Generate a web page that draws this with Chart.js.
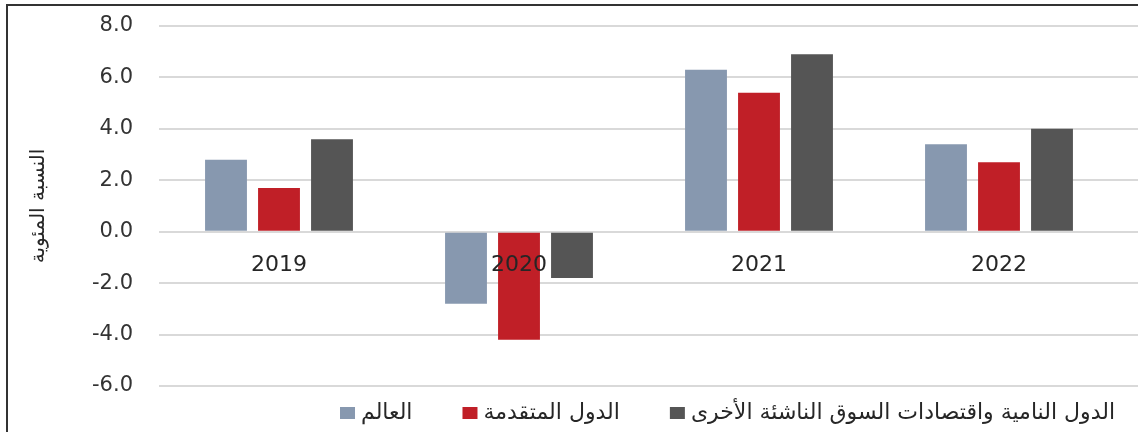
<!DOCTYPE html>
<html><head><meta charset="utf-8">
<script src="https://cdn.jsdelivr.net/npm/chart.js@4.4.1/dist/chart.umd.min.js"></script>
<style>html,body{margin:0;padding:0;background:#fff}canvas{display:block}</style>
</head><body>
<canvas id="c" width="1138" height="432"></canvas>
<script>
const categories = ['2019', '2020', '2021', '2022'];
const seriesNames = ['العالم', 'الدول المتقدمة', 'الدول النامية واقتصادات السوق الناشئة الأخرى'];
const worldValues = [2.8, -2.8, 6.3, 3.4];
const advancedValues = [1.7, -4.2, 5.4, 2.7];
const emergingValues = [3.6, -1.8, 6.9, 4.0];
const yMin = -6, yMax = 8, yStep = 2;
const yTitle = 'النسبة المئوية';

const decor = {
  id: 'decor',
  beforeDraw(chart) {
    const ctx = chart.ctx;
    ctx.save(); ctx.fillStyle = '#fff'; ctx.fillRect(0, 0, chart.width, chart.height); ctx.restore();
  },
  beforeDatasetsDraw(chart) {
    const y = chart.scales.y, a = chart.chartArea, ctx = chart.ctx;
    ctx.save(); ctx.strokeStyle = '#d9d9d9'; ctx.lineWidth = 2;
    y.ticks.forEach(t => {
      const p = Math.round(y.getPixelForValue(t.value));
      ctx.beginPath(); ctx.moveTo(a.right, p); ctx.lineTo(chart.width, p); ctx.stroke();
    });
    ctx.restore();
  },
  afterDraw(chart) {
    const ctx = chart.ctx;
    ctx.save();
    // frame
    ctx.strokeStyle = '#333'; ctx.lineWidth = 2;
    ctx.beginPath(); ctx.moveTo(7, chart.height); ctx.lineTo(7, 5); ctx.lineTo(chart.width, 5); ctx.stroke();
    // legend (from the chart's datasets)
    ctx.font = '22px "DejaVu Sans"';
    ctx.textBaseline = 'middle';
    ctx.textAlign = 'left';
    const boxW = 15, boxH = 12, boxGap = 6, itemGap = 50, rightEdge = 1115, cy = 413;
    const items = chart.data.datasets.map(ds => ({ text: ds.label, color: ds.backgroundColor, w: ctx.measureText(ds.label).width }));
    const total = items.reduce((s, it) => s + boxW + boxGap + it.w, 0) + itemGap * (items.length - 1);
    let x = rightEdge - total;
    items.forEach(it => {
      ctx.fillStyle = it.color;
      ctx.fillRect(x, cy - boxH / 2, boxW, boxH);
      x += boxW + boxGap;
      ctx.fillStyle = '#262626';
      ctx.fillText(it.text, x, cy);
      x += it.w + itemGap;
    });
    ctx.restore();
  }
};

new Chart(document.getElementById('c'), {
  type: 'bar',
  data: {
    labels: categories,
    datasets: [
      { label: seriesNames[0], data: worldValues, backgroundColor: '#8798AF' },
      { label: seriesNames[1], data: advancedValues, backgroundColor: '#C01F27' },
      { label: seriesNames[2], data: emergingValues, backgroundColor: '#555555' }
    ]
  },
  options: {
    responsive: false,
    animation: false,
    datasets: { bar: { barPercentage: 0.79, categoryPercentage: 0.6625 } },
    layout: { padding: { top: 26, right: 19, left: 0, bottom: 46 } },
    plugins: {
      legend: { display: false },
      tooltip: { enabled: false }
    },
    scales: {
      x: {
        position: { y: 0 },
        grid: { display: false },
        border: { display: false },
        ticks: { z: 1, font: { family: 'DejaVu Sans', size: 22 }, color: '#262626', padding: 12 },
        afterFit(s) { s.height = 0; }
      },
      y: {
        min: yMin, max: yMax,
        grid: { color: '#d9d9d9', lineWidth: 2, drawTicks: true, tickLength: 23, tickColor: 'rgba(0,0,0,0)' },
        border: { display: false },
        ticks: {
          stepSize: yStep,
          font: { family: 'DejaVu Sans', size: 21 }, color: '#333333', padding: 3,
          callback: v => Number(v).toFixed(1)
        },
        title: { display: true, text: yTitle, font: { family: 'DejaVu Sans', size: 20 }, color: '#262626', padding: { top: 27, bottom: 0 } },
        afterFit(s) { s.width = 159; }
      }
    }
  },
  plugins: [decor]
});
</script>
</body></html>
